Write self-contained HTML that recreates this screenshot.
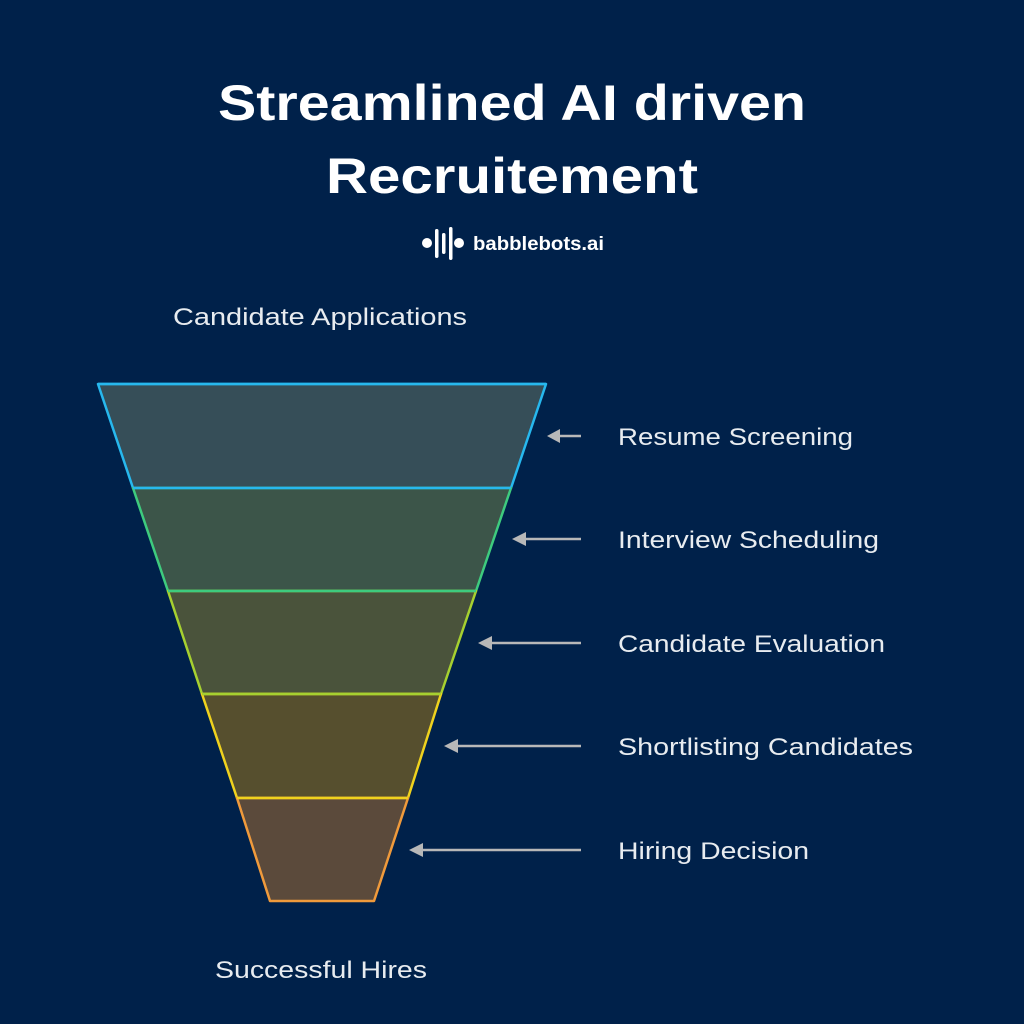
<!DOCTYPE html>
<html><head><meta charset="utf-8"><style>html,body{margin:0;padding:0;background:#00214a;}svg{display:block}</style></head>
<body>
<svg width="1024" height="1024" viewBox="0 0 1024 1024" xmlns="http://www.w3.org/2000/svg">
<rect width="1024" height="1024" fill="#00214a"/>
<g font-family="Liberation Sans, sans-serif" fill="#ffffff" font-weight="bold" font-size="50">
<text x="218" y="120" textLength="588" lengthAdjust="spacingAndGlyphs">Streamlined AI driven</text>
<text x="326" y="193" textLength="372" lengthAdjust="spacingAndGlyphs">Recruitement</text>
</g>
<!-- logo -->
<g fill="#fff">
<circle cx="427" cy="243" r="5"/>
<rect x="435" y="229" width="3.5" height="29" rx="1.7"/>
<rect x="442" y="233" width="3.5" height="21" rx="1.7"/>
<rect x="449" y="227" width="3.5" height="33" rx="1.7"/>
<circle cx="459" cy="243" r="5"/>
</g>
<text x="473" y="250" font-family="Liberation Sans, sans-serif" font-weight="bold" font-size="19" fill="#fff" textLength="131" lengthAdjust="spacingAndGlyphs">babblebots.ai</text>
<g font-family="Liberation Sans, sans-serif" font-size="24" fill="#e8ecf0">
<text x="173" y="325" textLength="294" lengthAdjust="spacingAndGlyphs">Candidate Applications</text>
<text x="215" y="978" textLength="212" lengthAdjust="spacingAndGlyphs">Successful Hires</text>
<text x="618" y="445" textLength="235" lengthAdjust="spacingAndGlyphs">Resume Screening</text>
<text x="618" y="548" textLength="261" lengthAdjust="spacingAndGlyphs">Interview Scheduling</text>
<text x="618" y="652" textLength="267" lengthAdjust="spacingAndGlyphs">Candidate Evaluation</text>
<text x="618" y="755" textLength="295" lengthAdjust="spacingAndGlyphs">Shortlisting Candidates</text>
<text x="618" y="859" textLength="191" lengthAdjust="spacingAndGlyphs">Hiring Decision</text>
</g>
<g stroke-width="2.5" stroke-linejoin="round">
<polygon points="98,384 546,384 511,488 133,488" fill="#364e58" stroke="#27b8ee"/>
<polygon points="133,488 511,488 476,591 168,591" fill="#3c5549" stroke="#3ecb7e"/>
<polygon points="168,591 476,591 441,694 202,694" fill="#4a533b" stroke="#a6d030"/>
<polygon points="202,694 441,694 408,798 237,798" fill="#564f2e" stroke="#efd21e"/>
<polygon points="237,798 408,798 374,901 270,901" fill="#5b4a3b" stroke="#ef9a3c"/>
<line x1="98" y1="384" x2="546" y2="384" stroke="#27b8ee"/>
<line x1="133" y1="488" x2="511" y2="488" stroke="#27b8ee"/>
<line x1="168" y1="591" x2="476" y2="591" stroke="#3ecb7e"/>
<line x1="202" y1="694" x2="441" y2="694" stroke="#a6d030"/>
<line x1="237" y1="798" x2="408" y2="798" stroke="#efd21e"/>
</g>
<g stroke="#b8b8b8" stroke-width="2.5" fill="#b8b8b8">
<line x1="558" y1="436" x2="581" y2="436"/><polygon points="547,436 560,429 560,443" stroke="none"/>
<line x1="524" y1="539" x2="581" y2="539"/><polygon points="512,539 526,532 526,546" stroke="none"/>
<line x1="490" y1="643" x2="581" y2="643"/><polygon points="478,643 492,636 492,650" stroke="none"/>
<line x1="456" y1="746" x2="581" y2="746"/><polygon points="444,746 458,739 458,753" stroke="none"/>
<line x1="421" y1="850" x2="581" y2="850"/><polygon points="409,850 423,843 423,857" stroke="none"/>
</g>
</svg>
</body></html>
